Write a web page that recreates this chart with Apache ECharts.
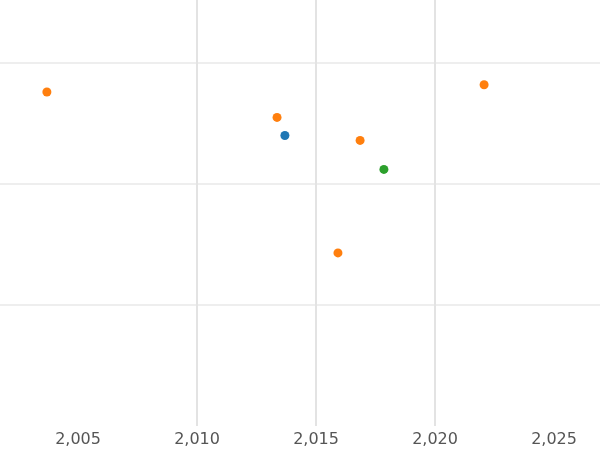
<!DOCTYPE html>
<html><head><meta charset="utf-8">
<script src="https://cdn.jsdelivr.net/npm/echarts@6/dist/echarts.min.js"></script>
<style>html,body{margin:0;padding:0;background:#fff}#c{width:600px;height:450px}</style>
</head><body><div id="c"></div>
<script>
const xTicks = [2005, 2010, 2015, 2020, 2025];
const blueData = [[2013.69, 2.40]];
const orangeData = [[2003.69, 2.76], [2013.36, 2.55], [2016.85, 2.36], [2022.06, 2.82], [2015.92, 1.43]];
const greenData = [[2017.85, 2.12]];
const chart = echarts.init(document.getElementById('c'));
const mk = (d, c) => ({type: 'scatter', data: d, symbolSize: 9, itemStyle: {color: c, opacity: 1}});
chart.setOption({
  animation: false,
  grid: {left: 0, right: 0, top: 0, bottom: 24},
  xAxis: {type: 'value', min: 2001.72, max: 2026.93,
    axisLine: {show: false},
    axisTick: {show: false, customValues: xTicks},
    axisLabel: {color: '#555', fontSize: 16, fontFamily: 'DejaVu Sans', margin: 6, customValues: xTicks},
    splitLine: {show: true, showMinLine: false, showMaxLine: false, lineStyle: {color: '#e3e3e3', width: 2}}},
  yAxis: {type: 'value', min: 0, max: 3.52, interval: 1,
    axisLine: {show: false}, axisTick: {show: false}, axisLabel: {show: false},
    splitLine: {showMinLine: false, showMaxLine: false, lineStyle: {color: '#e8e8e8', width: 1.5}}},
  series: [mk(blueData, '#1f77b4'), mk(orangeData, '#ff7f0e'), mk(greenData, '#2ca02c')]
});
</script></body></html>
